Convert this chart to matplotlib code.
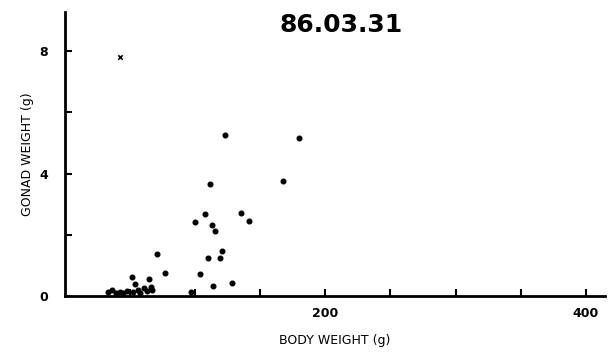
import matplotlib
matplotlib.use("Agg")
import matplotlib.pyplot as plt

title = "86.03.31"
x_label = "BODY WEIGHT (g)"
y_label = "GONAD WEIGHT (g)"

# body weight (g), gonad weight (g)
body_weight = [123, 180, 111.5, 167.7, 107.7, 100, 135.4, 141.5, 113, 115.4,
               120.8, 110, 119, 103.8, 113.8, 128,
               70.8, 51.5, 77, 53.8, 64.6,
               33, 36, 39, 42, 45, 48, 52, 56, 58, 61, 63, 66, 67, 97]
gonad_weight = [5.25, 5.15, 3.67, 3.77, 2.69, 2.43, 2.72, 2.46, 2.33, 2.13,
                1.48, 1.25, 1.25, 0.72, 0.33, 0.43,
                1.38, 0.62, 0.75, 0.39, 0.56,
                0.12, 0.2, 0.1, 0.13, 0.1, 0.16, 0.13, 0.2, 0.1, 0.26, 0.16, 0.3, 0.2, 0.12]
outlier_x = [42]
outlier_y = [7.8]

x_ticks = [50, 100, 150, 200, 250, 300, 350, 400]
x_tick_labels = ["", "", "", "200", "", "", "", "400"]
y_ticks = [0, 2, 4, 6, 8]
y_tick_labels = ["0", "", "4", "", "8"]

fig = plt.figure(figsize=(6.12, 3.56), dpi=100)
ax = fig.add_axes([0.106, 0.169, 0.883, 0.797])
ax.scatter(body_weight, gonad_weight, s=11, color="black", zorder=3)
ax.scatter(outlier_x, outlier_y, s=10, marker="x", color="black", linewidths=1.2, zorder=3)

ax.set_xlim(0, 415)
ax.set_ylim(0, 9.28)
ax.set_xticks(x_ticks)
ax.set_xticklabels(x_tick_labels, fontweight="bold")
ax.set_yticks(y_ticks)
ax.set_yticklabels(y_tick_labels, fontweight="bold")
ax.tick_params(direction="in", length=5, width=1.5, labelsize=9, colors="black")
ax.tick_params(axis="y", pad=12)
ax.tick_params(axis="x", pad=8)
for s in ["top", "right"]:
    ax.spines[s].set_visible(False)
for s in ["left", "bottom"]:
    ax.spines[s].set_linewidth(2)

ax.set_xlabel(x_label, fontsize=9, labelpad=10)
ax.set_ylabel(y_label, fontsize=9, labelpad=4)
fig.text(0.557, 0.93, title, fontsize=18, fontweight="bold", ha="center", va="center")

fig.savefig("out.png", dpi=100)
